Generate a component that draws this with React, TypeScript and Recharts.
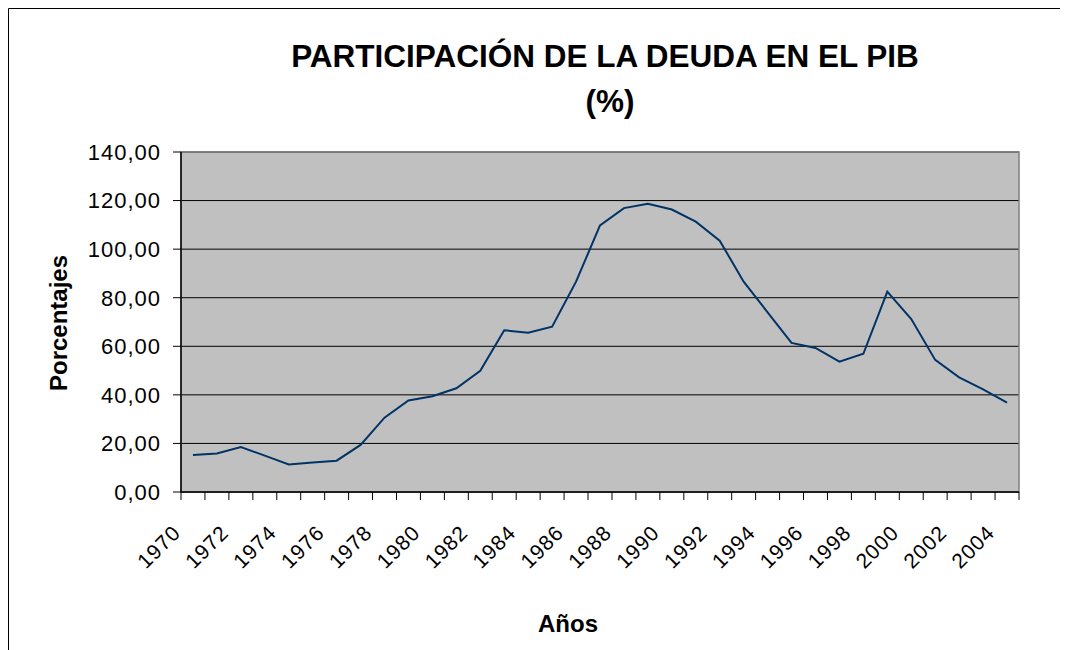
import { CartesianGrid, Line, LineChart, ReferenceArea, XAxis, YAxis } from "recharts";

const FONT = 'Arial, "Liberation Sans", Helvetica, sans-serif';

const years = [
  "1970", "1971", "1972", "1973", "1974", "1975", "1976", "1977", "1978", "1979",
  "1980", "1981", "1982", "1983", "1984", "1985", "1986", "1987", "1988", "1989",
  "1990", "1991", "1992", "1993", "1994", "1995", "1996", "1997", "1998", "1999",
  "2000", "2001", "2002", "2003", "2004"
];

const deudaPib = [
  15.2, 15.9, 18.5, 15.0, 11.3, 12.1, 12.9, 19.4, 30.6, 37.7,
  39.4, 42.7, 49.9, 66.6, 65.6, 68.1, 86.6, 109.8, 116.9, 118.7,
  116.3, 111.3, 103.5, 86.6, 74.0, 61.4, 59.3, 53.7, 56.9, 82.5,
  71.2, 54.4, 47.2, 42.3, 36.8
];

const yTicks = [0, 20, 40, 60, 80, 100, 120, 140];

// each year sits in the middle of its slot; tick marks go on slot edges,
// labels on every other slot centre
const data = years.map((year, i) => ({ year, pos: i + 0.5, deuda: deudaPib[i] }));
const xTicks = Array.from({ length: years.length * 2 + 1 }, (_, i) => i / 2);

const fmt = (v: number) => v.toFixed(2).replace(".", ",");

const YearTick = (props: any) => {
  const { x, y, payload } = props;
  const v = payload.value as number;
  if (Number.isInteger(v)) {
    return <line x1={x} x2={x} y1={y} y2={y + 8} stroke="#000" strokeWidth={1} />;
  }
  const idx = Math.floor(v);
  if (idx % 2 !== 0) return <g />;
  return (
    <g transform={`translate(${x - 11},${y + 42})`}>
      <text
        transform="rotate(-45)"
        textAnchor="end"
        fontFamily={FONT}
        fontSize={21}
        letterSpacing={1}
        fill="#000"
      >
        {years[idx]}
      </text>
    </g>
  );
};

export default function App() {
  return (
    <div style={{ position: "relative", width: 1060, height: 642 }}>
      <div style={{ position: "absolute", left: 0, top: 0 }}>
        <LineChart
          width={1060}
          height={632}
          data={data}
          margin={{ top: 144, right: 49, bottom: 48, left: 0 }}
        >
          <CartesianGrid fill="#C0C0C0" stroke="#000" vertical={false} />
          <ReferenceArea y1={0} y2={140} fill="none" stroke="#808080" strokeWidth={1.5} ifOverflow="visible" />
          <XAxis
            dataKey="pos"
            type="number"
            domain={[0, years.length]}
            ticks={xTicks}
            interval={0}
            allowDataOverflow
            height={100}
            axisLine={{ stroke: "#000", strokeWidth: 1.5 }}
            tickLine={false}
            tickSize={0}
            tickMargin={0}
            tick={<YearTick />}
          />
          <YAxis
            domain={[0, 140]}
            ticks={yTicks}
            interval={0}
            width={173}
            axisLine={{ stroke: "#000", strokeWidth: 1.5 }}
            tickLine={{ stroke: "#000" }}
            tickSize={8}
            tickMargin={12}
            tickFormatter={fmt}
            tick={{ fontFamily: FONT, fontSize: 22, fill: "#000", letterSpacing: 1 }}
          />
          <Line
            dataKey="deuda"
            stroke="#003366"
            strokeWidth={2}
            dot={false}
            type="linear"
            isAnimationActive={false}
          />
        </LineChart>
      </div>
      <svg
        width={1060}
        height={642}
        style={{ position: "absolute", left: 0, top: 0, pointerEvents: "none" }}
      >
        <path d="M 0.5 642 V 0.5 H 1060" fill="none" stroke="#000" strokeWidth={1} />
        <text x={597} y={59} textAnchor="middle" fontFamily={FONT} fontSize={31.5} fontWeight="bold" fill="#000">
          PARTICIPACIÓN DE LA DEUDA EN EL PIB
        </text>
        <text x={602} y={104} textAnchor="middle" fontFamily={FONT} fontSize={31.5} fontWeight="bold" fill="#000">
          (%)
        </text>
        <text
          x={59}
          y={315}
          transform="rotate(-90, 59, 315)"
          textAnchor="middle"
          fontFamily={FONT}
          fontSize={24}
          fontWeight="bold"
          fill="#000"
        >
          Porcentajes
        </text>
        <text x={560} y={624} textAnchor="middle" fontFamily={FONT} fontSize={24} fontWeight="bold" fill="#000">
          Años
        </text>
      </svg>
    </div>
  );
}
